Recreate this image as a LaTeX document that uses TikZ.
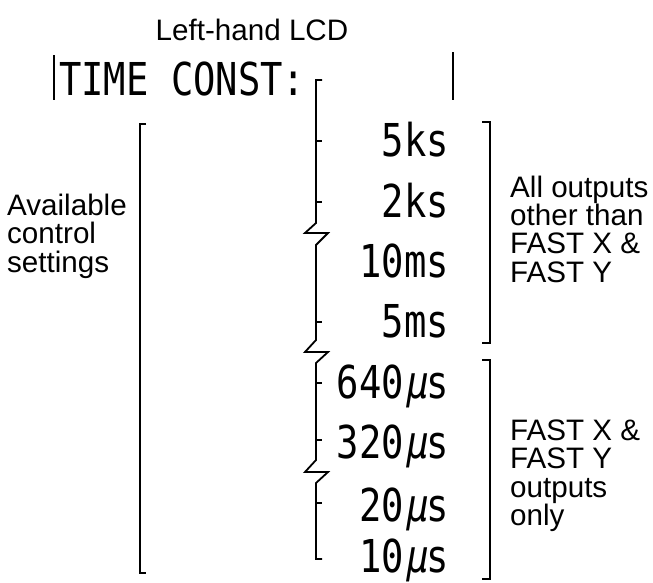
\documentclass[tikz,border=0pt]{standalone}
\usepackage{fontspec}
\setmainfont{Liberation Sans}
\newfontfamily\lcdfont{DejaVu Sans Mono}
\newfontfamily\lcdmufont[FakeSlant=0.2]{DejaVu Sans Mono}
\newcommand\lcdtext[1]{\scalebox{0.82}[1]{\fontsize{45.3}{45}\selectfont\lcdfont #1}}
\newcommand\mymu{{\lcdmufont μ}}
\tikzset{
  lbl/.style={inner sep=0pt, font=\fontsize{29.6}{28.4}\selectfont},
  lcd/.style={inner sep=0pt},
  brk/.style={line width=1.8pt, line join=miter},
  lcdbar/.style={line width=1.2pt},
}
\begin{document}
\begin{tikzpicture}[x=1pt,y=-1pt]
\useasboundingbox (0,0) rectangle (653,582);
% title
\node[lbl,anchor=base] (title) at (252,40) {Left-hand LCD};
% LCD line
\node[lcd,anchor=base west] (tc) at (59,95) {\lcdtext{TIME CONST:}};
\draw[lcdbar] (54,55) -- (54,100);
\draw[lcdbar] (453,52) -- (453,100);
% values
\node[lcd,anchor=base east] (v1) at (449,156) {\lcdtext{5ks}};
\node[lcd,anchor=base east] (v2) at (449,217) {\lcdtext{2ks}};
\node[lcd,anchor=base east] (v3) at (449,277) {\lcdtext{10ms}};
\node[lcd,anchor=base east] (v4) at (449,337) {\lcdtext{5ms}};
\node[lcd,anchor=base east] (v5) at (449,398) {\lcdtext{640\mymu s}};
\node[lcd,anchor=base east] (v6) at (449,458) {\lcdtext{320\mymu s}};
\node[lcd,anchor=base east] (v7) at (449,521) {\lcdtext{20\mymu s}};
\node[lcd,anchor=base east] (v8) at (449,572) {\lcdtext{10\mymu s}};
% spine with breaks
\draw[brk] (322,80) -- (316,80) -- (316,223) -- (305,233) -- (328,233) -- (316,245)
  -- (316,340) -- (305,352) -- (328,352) -- (316,363)
  -- (316,460) -- (305,472) -- (328,472) -- (316,483)
  -- (316,559) -- (322,559);
\foreach \y in {141,202,322,383,440,503} \draw[brk] (316,\y) -- (322,\y);
% left bracket
\draw[brk] (146,124) -- (140,124) -- (140,573) -- (146,573);
% right brackets
\draw[brk] (482,122) -- (490,122) -- (490,343) -- (482,343);
\draw[brk] (482,360) -- (490,360) -- (490,579) -- (482,579);
% left label
\node[lbl,anchor=base west] (a1) at (7,215) {Available};
\node[lbl,anchor=base west] (a2) at (7,243) {control};
\node[lbl,anchor=base west] (a3) at (7,272) {settings};
% right labels
\node[lbl,anchor=base west] (r1) at (510,197) {All outputs};
\node[lbl,anchor=base west] (r2) at (510,225) {other than};
\node[lbl,anchor=base west] (r3) at (510,253) {FAST X \&};
\node[lbl,anchor=base west] (r4) at (510,282) {FAST Y};
\node[lbl,anchor=base west] (s1) at (510,440) {FAST X \&};
\node[lbl,anchor=base west] (s2) at (510,468) {FAST Y};
\node[lbl,anchor=base west] (s3) at (510,497) {outputs};
\node[lbl,anchor=base west] (s4) at (510,525) {only};
\end{tikzpicture}
\end{document}
